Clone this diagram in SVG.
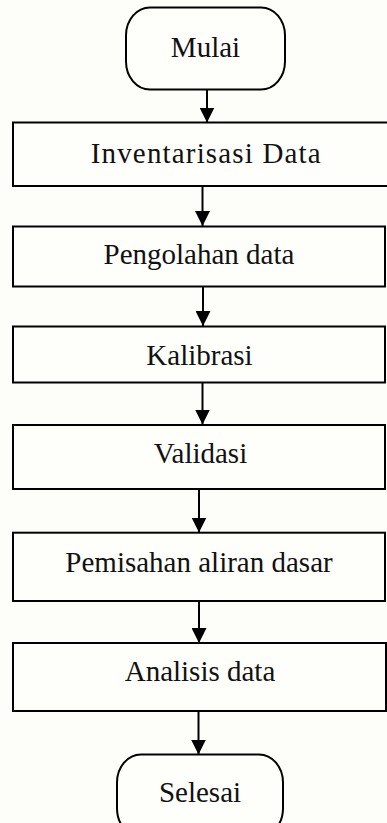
<svg xmlns="http://www.w3.org/2000/svg" width="387" height="823" viewBox="0 0 387 823">
<defs>
<style>
.box{fill:#fefefb;stroke:#000;stroke-width:2}
.lbl{font-family:"Liberation Serif","Times New Roman",serif;font-size:29px;fill:#111;text-anchor:middle}
.con{stroke:#000;stroke-width:2;fill:none;marker-end:url(#ah)}
</style>
<marker id="ah" markerUnits="userSpaceOnUse" markerWidth="15" markerHeight="15" viewBox="0 0 15 15" refX="15" refY="7.5" orient="auto">
<path d="M0,0 L15,7.5 L0,15 z" fill="#000"/>
</marker>
</defs>
<rect width="387" height="823" fill="#fdfdf9"/>
<g id="connectors">
<line class="con" x1="207" y1="89" x2="207" y2="122.5"/>
<line class="con" x1="202.5" y1="186" x2="202.5" y2="226"/>
<line class="con" x1="203" y1="287" x2="203" y2="326"/>
<line class="con" x1="202.5" y1="383" x2="202.5" y2="424.5"/>
<line class="con" x1="199" y1="489" x2="199" y2="532.5"/>
<line class="con" x1="199" y1="601" x2="199" y2="643"/>
<line class="con" x1="198.5" y1="711" x2="198.5" y2="754.5"/>
</g>
<g id="mulai">
<rect class="box" x="126" y="7.5" width="159" height="82" rx="24" ry="28"/>
<text class="lbl" x="205.5" y="57">Mulai</text>
</g>
<g id="inventarisasi">
<rect class="box" x="13" y="122.5" width="380" height="63.5"/>
<text class="lbl" x="205.7" y="163" textLength="230" lengthAdjust="spacing">Inventarisasi Data</text>
</g>
<g id="pengolahan">
<rect class="box" x="13" y="226.5" width="372" height="60"/>
<text class="lbl" x="199" y="264">Pengolahan data</text>
</g>
<g id="kalibrasi">
<rect class="box" x="13" y="326.5" width="372" height="56"/>
<text class="lbl" x="199.5" y="365">Kalibrasi</text>
</g>
<g id="validasi">
<rect class="box" x="13" y="425" width="372" height="64"/>
<text class="lbl" x="200.5" y="462.7">Validasi</text>
</g>
<g id="pemisahan">
<rect class="box" x="13" y="532.7" width="372" height="68.3"/>
<text class="lbl" x="199" y="571.7">Pemisahan aliran dasar</text>
</g>
<g id="analisis">
<rect class="box" x="13" y="643" width="373" height="68"/>
<text class="lbl" x="200" y="681">Analisis data</text>
</g>
<g id="selesai">
<rect class="box" x="117" y="754.5" width="166" height="82" rx="24" ry="28"/>
<text class="lbl" x="200" y="802">Selesai</text>
</g>
</svg>
